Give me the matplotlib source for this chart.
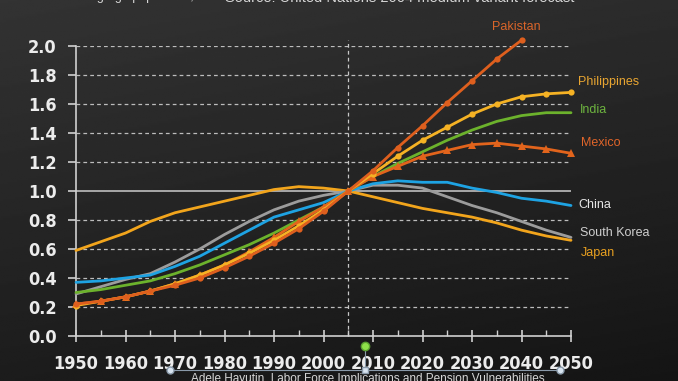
import numpy as np
import matplotlib
matplotlib.use("Agg")
import matplotlib.pyplot as plt
from matplotlib.lines import Line2D
from matplotlib import font_manager

years = list(range(1950, 2055, 5))

pakistan = [0.22, 0.24, 0.27, 0.31, 0.35, 0.40, 0.47, 0.55, 0.64, 0.74, 0.86, 1.00,
            1.14, 1.30, 1.45, 1.61, 1.76, 1.91, 2.04]
philippines = [0.21, 0.24, 0.27, 0.31, 0.36, 0.42, 0.49, 0.57, 0.66, 0.76, 0.87, 1.00,
               1.12, 1.24, 1.35, 1.44, 1.53, 1.60, 1.65, 1.67, 1.68]
india = [0.30, 0.32, 0.35, 0.38, 0.43, 0.49, 0.56, 0.63, 0.71, 0.80, 0.89, 1.00,
         1.10, 1.19, 1.27, 1.35, 1.42, 1.48, 1.52, 1.54, 1.54]
mexico = [0.22, 0.24, 0.27, 0.31, 0.36, 0.42, 0.49, 0.58, 0.68, 0.79, 0.89, 1.00,
          1.10, 1.17, 1.24, 1.28, 1.32, 1.33, 1.31, 1.29, 1.26]
china = [0.37, 0.38, 0.40, 0.42, 0.48, 0.55, 0.64, 0.73, 0.82, 0.87, 0.92, 1.00,
         1.05, 1.07, 1.06, 1.06, 1.02, 0.99, 0.95, 0.93, 0.90]
south_korea = [0.29, 0.34, 0.39, 0.43, 0.51, 0.60, 0.70, 0.79, 0.87, 0.93, 0.97, 1.00,
               1.04, 1.04, 1.02, 0.96, 0.90, 0.85, 0.79, 0.73, 0.68]
japan = [0.59, 0.65, 0.71, 0.79, 0.85, 0.89, 0.93, 0.97, 1.01, 1.03, 1.02, 1.00,
         0.96, 0.92, 0.88, 0.85, 0.82, 0.78, 0.73, 0.69, 0.66]

y_ticks = [0.0, 0.2, 0.4, 0.6, 0.8, 1.0, 1.2, 1.4, 1.6, 1.8, 2.0]
x_ticks = list(range(1950, 2060, 10))

series = [
    ("Japan", japan, "#f2a51c", None, "#e8a020"),
    ("South Korea", south_korea, "#9c9c9c", None, "#cfcfcf"),
    ("China", china, "#1ea3e3", None, "#e6e6e6"),
    ("India", india, "#6cb22c", None, "#6db33f"),
    ("Mexico", mexico, "#e2641c", "^", "#e0652a"),
    ("Philippines", philippines, "#f5b224", "o", "#e8a531"),
    ("Pakistan", pakistan, "#de5f1e", "o", "#d9652a"),
]

# condensed bold font for tick labels if available
tick_fp = font_manager.FontProperties(family="DejaVu Sans", weight="bold",
                                      stretch="condensed", size=13)
try:
    fpath = font_manager.findfont(tick_fp, fallback_to_default=False)
    condensed_ok = "Condensed" in fpath
except Exception:
    condensed_ok = False
if not condensed_ok:
    tick_fp = font_manager.FontProperties(family="Liberation Sans", weight="bold", size=12)

fig = plt.figure(figsize=(6.78, 3.81), dpi=100)

# background gradient
bg = fig.add_axes([0, 0, 1, 1], zorder=-10)
gy = np.linspace(0, 1, 200)[:, None]
gx = np.linspace(0, 1, 300)[None, :]
grad = 0.20 - 0.09 * gy - 0.03 * gx
bg.imshow(grad, cmap="gray", vmin=0, vmax=1, aspect="auto", extent=[0, 1, 0, 1], origin="upper")
bg.set_axis_off()

ax = fig.add_axes([76 / 678, 1 - 336 / 381, (571 - 76) / 678, (336 - 46) / 381])
ax.set_facecolor("none")
ax.set_xlim(1950, 2050)
ax.set_ylim(0, 2.0)

for yv in y_ticks[1:]:
    if abs(yv - 1.0) < 1e-9:
        ax.axhline(yv, color="#a8a8a8", lw=1.4, zorder=1)
    else:
        ax.axhline(yv, color="#bdbdbd", lw=0.9, ls=(0, (3, 2.5)), zorder=1)
ax.axvline(2005, ymin=0, ymax=1.02, color="#c8c8c8", lw=0.9, ls=(0, (3, 2.5)), zorder=1, clip_on=False)

for name, vals, col, mk, lcol in series:
    yrs = years[:len(vals)]
    ax.plot(yrs, vals, color=col, lw=2.0, marker=mk,
            markersize=(6 if mk == "^" else 4.5), markeredgewidth=0,
            zorder=3, clip_on=False, solid_capstyle="round")

label_pos = {
    "Pakistan": (2039, 2.13, "center"),
    "Philippines": (2051.5, 1.75, "left"),
    "India": (2051.8, 1.56, "left"),
    "Mexico": (2052, 1.33, "left"),
    "China": (2051.5, 0.9, "left"),
    "South Korea": (2051.8, 0.71, "left"),
    "Japan": (2052, 0.57, "left"),
}
for name, vals, col, mk, lcol in series:
    lx, lyy, ha = label_pos[name]
    ax.text(lx, lyy, name, color=lcol, fontsize=9, ha=ha, va="center",
            family=["Liberation Sans", "DejaVu Sans"], clip_on=False)

for s in ["top", "right"]:
    ax.spines[s].set_visible(False)
ax.spines["left"].set_color("#d0d0d0")
ax.spines["bottom"].set_color("#d0d0d0")
ax.spines["left"].set_linewidth(1.2)
ax.spines["bottom"].set_linewidth(1.2)

ax.set_yticks(y_ticks)
ax.set_yticklabels([f"{v:.1f}" for v in y_ticks])
ax.set_xticks(x_ticks)
ax.set_xticklabels([str(v) for v in x_ticks])
ax.set_xticks(list(range(1955, 2050, 10)), minor=True)
ax.tick_params(axis="y", colors="#d0d0d0", length=6, width=1.2, direction="out", pad=8)
ax.tick_params(axis="x", which="major", colors="#d0d0d0", length=9, width=1.2, direction="inout", pad=9)
ax.tick_params(axis="x", which="minor", colors="#d0d0d0", length=4, width=1.0, direction="in")
for lab in ax.get_xticklabels() + ax.get_yticklabels():
    lab.set_color("#ececec")
    lab.set_fontproperties(tick_fp)

# header texts (cut at the top, as in the reference)
fig.text(400 / 678, 1 - (-2) / 381, "Source: United Nations 2004 medium variant forecast",
         color="#d6d6d6", fontsize=10.5, ha="center", va="center",
         family=["Liberation Sans", "DejaVu Sans"])
fig.text(58 / 678, 1 - (-3) / 381, "Working-age population,",
         color="#d6d6d6", fontsize=9, ha="left", va="center",
         family=["Liberation Sans", "DejaVu Sans"])

# footer selection box
fig.add_artist(Line2D([170 / 678, 560 / 678], [1 - 370 / 381, 1 - 370 / 381],
                      color="#8a9aaa", lw=0.8, transform=fig.transFigure))
fig.add_artist(Line2D([365 / 678, 365 / 678], [1 - 348 / 381, 1 - 370 / 381],
                      color="#8a9aaa", lw=0.8, transform=fig.transFigure))
for hx in [170, 560]:
    fig.add_artist(Line2D([hx / 678], [1 - 370 / 381], marker="o", markersize=5,
                          markerfacecolor="#d8e4f0", markeredgecolor="#8a9aaa",
                          transform=fig.transFigure))
fig.add_artist(Line2D([365 / 678], [1 - 370 / 381], marker="s", markersize=4.5,
                      markerfacecolor="#d8e4f0", markeredgecolor="#8a9aaa",
                      transform=fig.transFigure))
fig.add_artist(Line2D([365 / 678], [1 - 346 / 381], marker="o", markersize=6,
                      markerfacecolor="#8ee04a", markeredgecolor="#5aa030",
                      transform=fig.transFigure))
fig.text(368 / 678, 1 - 379 / 381,
         "Adele Hayutin, Labor Force Implications and Pension Vulnerabilities",
         color="#d6d6d6", fontsize=8.5, ha="center", va="center",
         family=["Liberation Sans", "DejaVu Sans"])

fig.savefig("out.png", dpi=100)
